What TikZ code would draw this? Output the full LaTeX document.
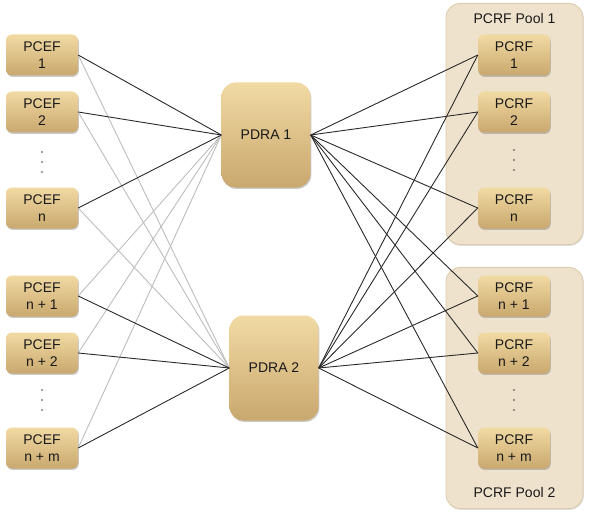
\documentclass[tikz,border=0pt]{standalone}
\usepackage{fontspec}
\setmainfont{Liberation Sans}
\usetikzlibrary{shadows}
\definecolor{boxtop}{HTML}{F1DAA3}
\definecolor{boxbot}{HTML}{C9A86E}
\definecolor{poolfill}{HTML}{EEE2CD}
\definecolor{pooldraw}{HTML}{DCCAA9}
\definecolor{darkline}{HTML}{2A2A2A}
\definecolor{grayline}{HTML}{BDBDBD}
\begin{document}
\begin{tikzpicture}[x=1pt,y=-1pt,
  every node/.style={font=\fontsize{14}{17}\selectfont, text=black!90},
  elem/.style={draw=none, rounded corners=6pt, top color=boxtop, bottom color=boxbot,
    minimum width=72pt, minimum height=41pt, align=center, inner sep=0pt,
    drop shadow={shadow xshift=0.8pt, shadow yshift=-1.4pt, opacity=0.35, fill=black!60}},
  pdra/.style={elem, rounded corners=14pt, minimum width=89pt, minimum height=105pt},
  pool/.style={draw=pooldraw, line width=0.8pt, fill=poolfill, rounded corners=14pt,
    minimum width=137pt, minimum height=241pt, inner sep=0pt,
    drop shadow={shadow xshift=0.8pt, shadow yshift=-1.4pt, opacity=0.25, fill=black!50}},
  dotmark/.style={circle, fill=black!75, inner sep=0pt, minimum size=1.6pt},
  dk/.style={draw=darkline, line width=0.9pt},
  gr/.style={draw=grayline, line width=0.9pt}]
\useasboundingbox (0,0) rectangle (594,516);
% pools
\node[pool] (pool1) at (514.5,124) {};
\node[pool] (pool2) at (514.5,388) {};
\node (t1) at (514.5,18) {PCRF Pool 1};
\node (t2) at (514.5,492) {PCRF Pool 2};
% PCEF
\node[elem] (e1) at (42,55) {PCEF\\1};
\node[elem] (e2) at (42,112) {PCEF\\2};
\node[elem] (en) at (42,208) {PCEF\\n};
\node[elem] (en1) at (42,296) {PCEF\\n + 1};
\node[elem] (en2) at (42,353) {PCEF\\n + 2};
\node[elem] (enm) at (42,448) {PCEF\\n + m};
% PDRA
\node[pdra] (d1) at (266,135) {PDRA 1};
\node[pdra] (d2) at (274,368) {PDRA 2};
% PCRF
\node[elem] (r1) at (514,55) {PCRF\\1};
\node[elem] (r2) at (514,112) {PCRF\\2};
\node[elem] (rn) at (514,208) {PCRF\\n};
\node[elem] (rn1) at (514,296) {PCRF\\n + 1};
\node[elem] (rn2) at (514,353) {PCRF\\n + 2};
\node[elem] (rnm) at (514,448) {PCRF\\n + m};
% vertical ellipses
\foreach \nm/\x/\y in {ea/42/152, eb/42/162, ec/42/172, ed/42/390, ee/42/400, ef/42/410,
                      ra/514/150, rb/514/160, rc/514/170, rd/514/390, re/514/400, rf/514/410}
  \node[dotmark] (\nm) at (\x,\y) {};
% gray connectors
\foreach \e in {e1,e2,en} \draw[gr] (\e.east) -- (d2.west);
\foreach \e in {en1,en2,enm} \draw[gr] (\e.east) -- (d1.west);
% dark connectors
\foreach \e in {e1,e2,en} \draw[dk] (\e.east) -- (d1.west);
\foreach \e in {en1,en2,enm} \draw[dk] (\e.east) -- (d2.west);
\foreach \r in {r1,r2,rn,rn1,rn2,rnm} {
  \draw[dk] (d1.east) -- (\r.west);
  \draw[dk] (d2.east) -- (\r.west);
}
\end{tikzpicture}
\end{document}
